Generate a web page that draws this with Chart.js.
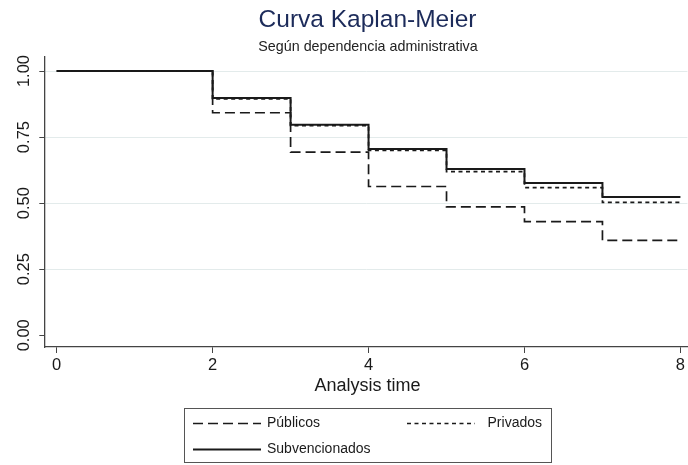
<!DOCTYPE html>
<html>
<head>
<meta charset="utf-8">
<script src="https://cdn.jsdelivr.net/npm/chart.js@4/dist/chart.umd.min.js"></script>
<style>
  html, body { margin: 0; padding: 0; background: #fff; }
  #wrap { width: 688px; height: 465px; }
</style>
</head>
<body>
<div id="wrap"><canvas id="myChart" width="688" height="465"></canvas></div>
<script>
// Survival estimates (value holds from this time until the next one)
const times = [0, 2, 3, 4, 5, 6, 7, 8];
const publicos = [1.00, 0.842, 0.693, 0.563, 0.486, 0.430, 0.359, 0.359];
const privados = [1.00, 0.894, 0.793, 0.700, 0.619, 0.559, 0.503, 0.503];
const subvencionados = [1.00, 0.898, 0.797, 0.705, 0.629, 0.576, 0.523, 0.523];

const xTicks = [0, 2, 4, 6, 8];
const yTicks = [0, 0.25, 0.5, 0.75, 1];

const FONT = '"Liberation Sans", Arial, Helvetica, sans-serif';
const INK = '#1a1a1a';

function toPoints(values) {
    return times.map((t, i) => ({ x: t, y: values[i] }));
}

// Title, subtitle, y tick labels (vertical), axis title and boxed legend
const decorations = {
    id: 'decorations',
    afterDraw(chart) {
        const ctx = chart.ctx;
        const y = chart.scales.y;
        ctx.save();

        ctx.textAlign = 'center';
        ctx.textBaseline = 'alphabetic';
        ctx.fillStyle = '#1c2b5a';
        ctx.font = '24.5px ' + FONT;
        ctx.fillText('Curva Kaplan-Meier', 367.5, 27);
        ctx.fillStyle = '#222';
        ctx.font = '14.3px ' + FONT;
        ctx.fillText('Según dependencia administrativa', 368, 51);

        // y tick labels rotated
        ctx.fillStyle = INK;
        ctx.font = '16.5px ' + FONT;
        ctx.textBaseline = 'middle';
        yTicks.forEach(v => {
            ctx.save();
            ctx.translate(24, y.getPixelForValue(v));
            ctx.rotate(-Math.PI / 2);
            ctx.fillText(v.toFixed(2), 0, 0);
            ctx.restore();
        });

        ctx.textBaseline = 'alphabetic';
        ctx.font = '18px ' + FONT;
        ctx.fillText('Analysis time', 367.5, 390.5);

        // legend
        ctx.strokeStyle = '#555';
        ctx.lineWidth = 1;
        ctx.strokeRect(184.5, 408.5, 367, 54);
        const slots = [[193, 423.5], [407, 423.5], [193, 449.5]];
        const ds = chart.data.datasets;
        ds.forEach((d, i) => {
            const [sx, sy] = slots[i];
            ctx.beginPath();
            ctx.setLineDash(d.borderDash || []);
            ctx.lineWidth = d.borderWidth;
            ctx.strokeStyle = d.borderColor;
            ctx.moveTo(sx, sy);
            ctx.lineTo(sx + 68, sy);
            ctx.stroke();
        });
        ctx.setLineDash([]);
        ctx.font = '14px ' + FONT;
        ctx.textBaseline = 'middle';
        ctx.textAlign = 'left';
        ctx.fillText(ds[0].label, 267, 423.5);
        ctx.fillText(ds[2].label, 267, 449.5);
        ctx.textAlign = 'right';
        ctx.fillText(ds[1].label, 542, 423.5);
        ctx.restore();
    }
};

document.addEventListener("DOMContentLoaded", function () {
    var ctx = document.getElementById('myChart').getContext('2d');

    var myChart = new Chart(ctx, {
        type: 'line',
        data: {
            datasets: [
                {
                    label: 'Públicos',
                    data: toPoints(publicos),
                    borderColor: INK,
                    borderWidth: 1.7,
                    borderDash: [10, 5],
                    stepped: true,
                    pointRadius: 0,
                    fill: false
                },
                {
                    label: 'Privados',
                    data: toPoints(privados),
                    borderColor: INK,
                    borderWidth: 1.7,
                    borderDash: [4, 3.5],
                    stepped: true,
                    pointRadius: 0,
                    fill: false
                },
                {
                    label: 'Subvencionados',
                    data: toPoints(subvencionados),
                    borderColor: INK,
                    borderWidth: 2,
                    stepped: true,
                    pointRadius: 0,
                    fill: false
                }
            ]
        },
        options: {
            responsive: false,
            animation: false,
            events: [],
            layout: { padding: { top: 57, left: 0, right: 0, bottom: 88 } },
            plugins: {
                legend: { display: false },
                title: { display: false },
                tooltip: { enabled: false }
            },
            scales: {
                x: {
                    type: 'linear',
                    min: -0.159,
                    max: 8.09,
                    afterBuildTicks: s => { s.ticks = xTicks.map(v => ({ value: v })); },
                    afterFit: s => { s.height = 30; },
                    border: { color: '#444', width: 1.3 },
                    grid: { drawOnChartArea: false, tickLength: 6, tickColor: '#444', tickWidth: 1 },
                    ticks: {
                        color: INK,
                        font: { family: FONT, size: 16.5 },
                        padding: 3,
                        maxRotation: 0,
                        callback: v => String(v)
                    }
                },
                y: {
                    min: -0.0443,
                    max: 1.053,
                    afterBuildTicks: s => { s.ticks = yTicks.map(v => ({ value: v })); },
                    afterFit: s => { s.width = 44.3; },
                    border: { color: '#444', width: 1.3 },
                    grid: {
                        color: c => (c.tick && c.tick.value > 0) ? '#e3ebeb' : 'rgba(0,0,0,0)',
                        lineWidth: 1,
                        tickLength: 5,
                        tickColor: '#444',
                        tickWidth: 1
                    },
                    ticks: { display: false }
                }
            }
        },
        plugins: [decorations]
    });
});
</script>
</body>
</html>
